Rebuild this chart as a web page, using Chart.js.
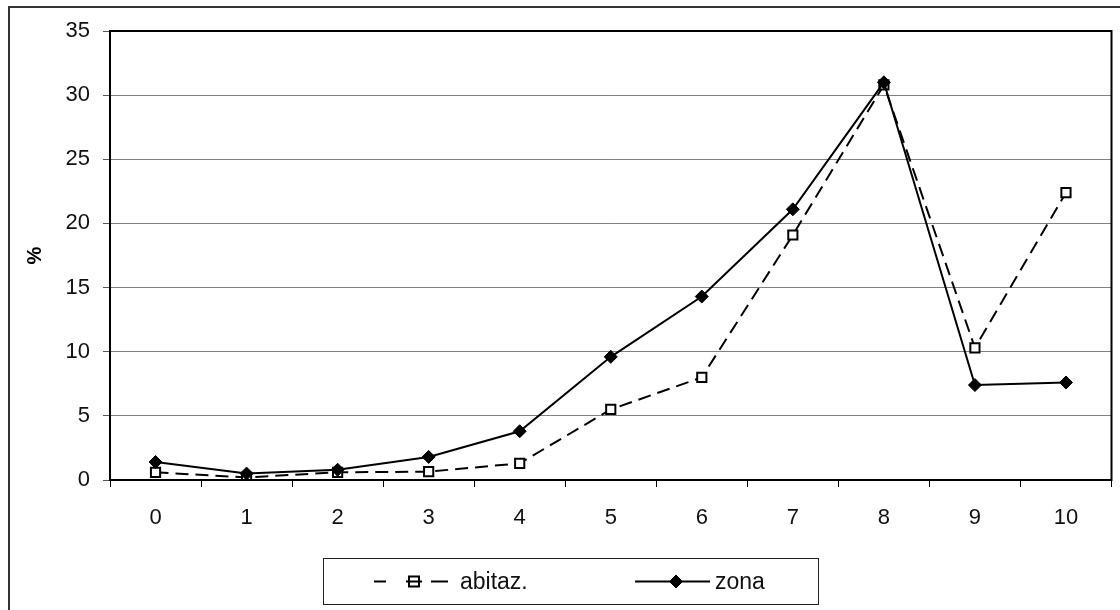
<!DOCTYPE html>
<html>
<head>
<meta charset="utf-8">
<style>
  html, body { margin: 0; padding: 0; background: #fff; }
  #wrap { width: 1120px; height: 610px; position: relative; }
</style>
<script src="https://cdn.jsdelivr.net/npm/chart.js@4.4.1/dist/chart.umd.min.js"></script>
</head>
<body>
<div id="wrap"><canvas id="c" width="1120" height="610"></canvas></div>
<script>
// Categories along the x axis
const categories = ['0', '1', '2', '3', '4', '5', '6', '7', '8', '9', '10'];
// Series values (%)
const abitaz = [0.6, 0.2, 0.6, 0.65, 1.3, 5.5, 8.0, 19.1, 30.8, 10.3, 22.4];
const zona = [1.4, 0.5, 0.8, 1.8, 3.8, 9.6, 14.3, 21.1, 31.0, 7.4, 7.6];
// Series names
const seriesNames = ['abitaz.', 'zona'];
// Y axis ticks
const yTicks = [0, 5, 10, 15, 20, 25, 30, 35];
const yTitle = '%';

const FONT = '"Liberation Sans", Arial, sans-serif';

// Outer frame, plot border and boxed legend
const framePlugin = {
  id: 'framePlugin',
  beforeDraw(chart) {
    const ctx = chart.ctx;
    ctx.save();
    ctx.fillStyle = '#fff';
    ctx.fillRect(0, 0, chart.width, chart.height);
    ctx.strokeStyle = '#333';
    ctx.lineWidth = 2;
    ctx.strokeRect(9, 7, 1130, 620);
    ctx.restore();
  },
  afterDatasetsDraw(chart) {
    const ctx = chart.ctx;
    const a = chart.chartArea;
    ctx.save();
    ctx.strokeStyle = '#000';
    ctx.lineWidth = 2;
    ctx.strokeRect(a.left, a.top, a.right - a.left, a.bottom - a.top);
    ctx.restore();
  },
  afterDraw(chart) {
    const ctx = chart.ctx;
    const box = { x: 323.5, y: 558.5, w: 495, h: 46 };
    ctx.save();
    ctx.strokeStyle = '#222';
    ctx.lineWidth = 1;
    ctx.strokeRect(box.x, box.y, box.w, box.h);
    const cy = 581.5;
    const starts = [374, 635];
    const sampleW = 75;
    // legend sample dashes: one short dash, marker, one longer dash
    const sampleDash = [[12, 45, 17, 100], []];
    const markerX = [414, 676];
    const textX = [460, 715];
    chart.data.datasets.forEach((ds, i) => {
      const x0 = starts[i];
      ctx.save();
      ctx.strokeStyle = ds.borderColor;
      ctx.lineWidth = ds.borderWidth;
      ctx.setLineDash(sampleDash[i]);
      ctx.beginPath();
      ctx.moveTo(x0, cy);
      ctx.lineTo(x0 + sampleW, cy);
      ctx.stroke();
      ctx.restore();
      const mx = markerX[i];
      ctx.save();
      ctx.fillStyle = ds.pointBackgroundColor;
      ctx.strokeStyle = ds.pointBorderColor;
      ctx.lineWidth = ds.pointBorderWidth;
      ctx.beginPath();
      if (ds.pointStyle === 'rect') {
        const s = 5;
        ctx.rect(mx - s, cy - s, 2 * s, 2 * s);
        ctx.fill();
        ctx.stroke();
        ctx.beginPath();
        ctx.moveTo(mx - s - 3, cy);
        ctx.lineTo(mx + s + 3, cy);
        ctx.stroke();
      } else {
        const r = 6.5;
        ctx.moveTo(mx, cy - r);
        ctx.lineTo(mx + r, cy);
        ctx.lineTo(mx, cy + r);
        ctx.lineTo(mx - r, cy);
        ctx.closePath();
        ctx.fill();
        ctx.stroke();
      }
      ctx.restore();
      ctx.fillStyle = '#111';
      ctx.font = '23px ' + FONT;
      ctx.textBaseline = 'middle';
      ctx.textAlign = 'left';
      ctx.fillText(ds.label, textX[i], cy + 1);
    });
    ctx.restore();
  }
};

new Chart(document.getElementById('c'), {
  type: 'line',
  data: {
    labels: categories,
    datasets: [
      {
        label: seriesNames[0],
        data: abitaz,
        borderColor: '#000',
        borderWidth: 2,
        borderDash: [13, 7],
        pointStyle: 'rect',
        pointRadius: 6.5,
        pointBackgroundColor: '#fff',
        pointBorderColor: '#000',
        pointBorderWidth: 2,
        tension: 0,
        order: 1
      },
      {
        label: seriesNames[1],
        data: zona,
        borderColor: '#000',
        borderWidth: 2,
        borderDash: [],
        pointStyle: 'rectRot',
        pointRadius: 6.5,
        pointBackgroundColor: '#000',
        pointBorderColor: '#000',
        pointBorderWidth: 1,
        tension: 0,
        order: 0
      }
    ]
  },
  options: {
    responsive: false,
    animation: false,
    events: [],
    layout: { padding: { top: 31, right: 3, bottom: 0, left: 0 } },
    plugins: {
      legend: { display: false },
      tooltip: { enabled: false }
    },
    scales: {
      x: {
        type: 'category',
        offset: true,
        grid: {
          offset: true,
          drawOnChartArea: false,
          drawTicks: true,
          tickLength: 7,
          color: '#000',
          lineWidth: 1
        },
        border: { display: false },
        ticks: {
          color: '#111',
          font: { family: FONT, size: 22 },
          padding: 18,
          maxRotation: 0,
          autoSkip: false
        },
        afterFit(scale) { scale.height = 130; }
      },
      y: {
        min: 0,
        max: 35,
        afterBuildTicks(scale) {
          scale.ticks = yTicks.map(v => ({ value: v }));
        },
        grid: {
          color: '#808080',
          lineWidth: 1,
          tickLength: 7,
          tickColor: '#555'
        },
        border: { display: false },
        ticks: {
          color: '#111',
          font: { family: FONT, size: 22 },
          padding: 13
        },
        title: {
          display: true,
          text: yTitle,
          color: '#000',
          font: { family: FONT, size: 20, weight: 'bold' },
          padding: { top: 23, bottom: 0 }
        },
        afterFit(scale) { scale.width = 110; }
      }
    }
  },
  plugins: [framePlugin]
});
</script>
</body>
</html>
